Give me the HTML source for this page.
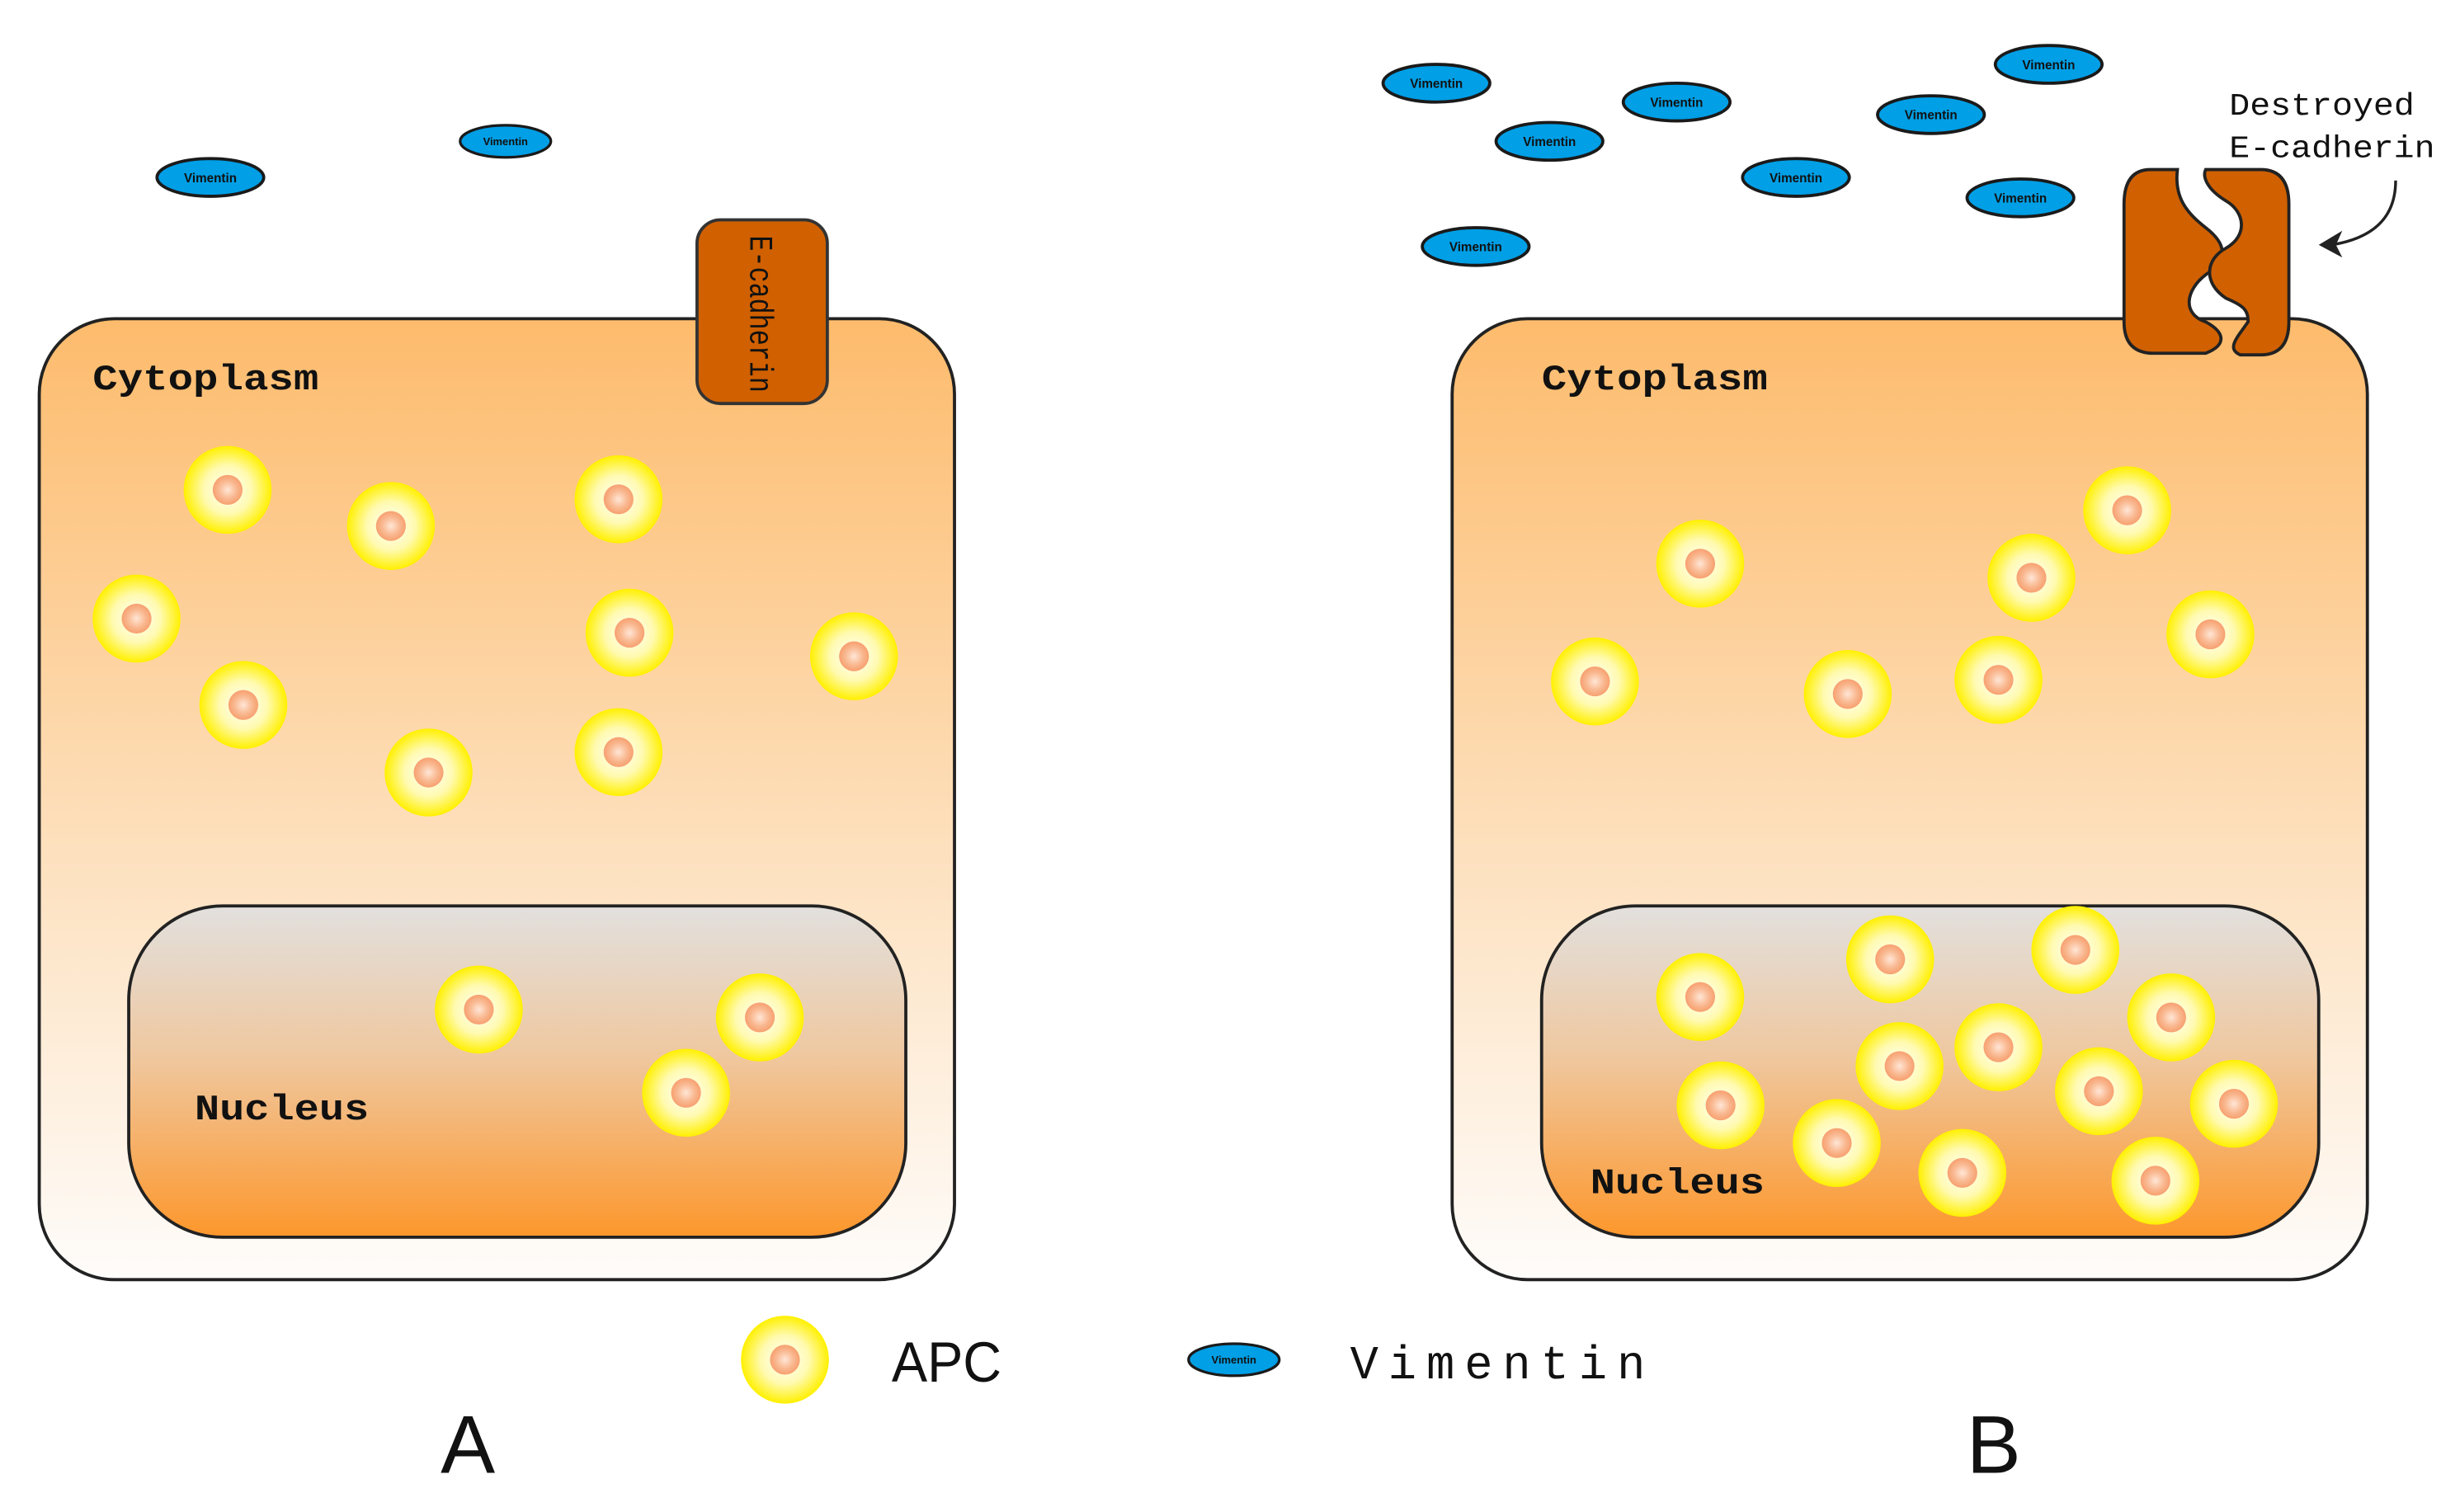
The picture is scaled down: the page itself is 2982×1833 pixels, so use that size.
<!DOCTYPE html>
<html><head><meta charset="utf-8"><style>html,body{margin:0;padding:0;background:#fff;}svg{display:block;}</style></head>
<body>
<svg width="2982" height="1833" viewBox="0 0 1567 963" preserveAspectRatio="none" xmlns="http://www.w3.org/2000/svg">
<defs>
<linearGradient id="cyto" x1="0" y1="0" x2="0" y2="1">
<stop offset="0" stop-color="#fdbb6c"/><stop offset="0.55" stop-color="#fde0bd"/><stop offset="1" stop-color="#fefcfa"/>
</linearGradient>
<linearGradient id="nuc" x1="0" y1="0" x2="0" y2="1">
<stop offset="0" stop-color="#e2e0de"/><stop offset="0.45" stop-color="#efc8a0"/><stop offset="1" stop-color="#fd972c"/>
</linearGradient>
<radialGradient id="apc"><stop offset="0" stop-color="#ffffff"/><stop offset="0.55" stop-color="#fffab0"/><stop offset="1" stop-color="#fff000"/></radialGradient>
<radialGradient id="dot"><stop offset="0" stop-color="#ffe6d6"/><stop offset="0.6" stop-color="#f9b890"/><stop offset="1" stop-color="#f7a070"/></radialGradient>
<g id="a"><circle r="28" fill="url(#apc)"/><circle r="9.5" fill="url(#dot)"/></g>
<g id="v"><ellipse rx="34" ry="12" fill="#009fe6" stroke="#1a1a1a" stroke-width="2"/><text y="3" text-anchor="middle" font-family="Liberation Sans, sans-serif" font-size="8" font-weight="bold" fill="#111">Vimentin</text></g>
</defs>

<!-- Cell A -->
<rect x="25" y="203" width="583" height="612" rx="48" fill="url(#cyto)" stroke="#222" stroke-width="2"/>
<rect x="82" y="577" width="495" height="211" rx="60" fill="url(#nuc)" stroke="#222" stroke-width="2"/>
<rect x="444" y="140" width="83" height="117" rx="15" fill="#d06000" stroke="#333" stroke-width="2"/>
<text transform="translate(478,150) rotate(90)" font-family="Liberation Mono, monospace" font-size="21" fill="#111" textLength="100" lengthAdjust="spacingAndGlyphs">E-cadherin</text>
<text x="59" y="248" font-family="Liberation Mono, monospace" font-size="23" font-weight="bold" fill="#111" textLength="144" lengthAdjust="spacingAndGlyphs">Cytoplasm</text>
<text x="124" y="713" font-family="Liberation Mono, monospace" font-size="23" font-weight="bold" fill="#111" textLength="111" lengthAdjust="spacingAndGlyphs">Nucleus</text>
<use href="#v" transform="translate(134,113)"/>
<use href="#v" transform="translate(322,90) scale(0.85)"/>
<use href="#a" x="145" y="312"/><use href="#a" x="249" y="335"/><use href="#a" x="394" y="318"/>
<use href="#a" x="87" y="394"/><use href="#a" x="401" y="403"/><use href="#a" x="544" y="418"/>
<use href="#a" x="155" y="449"/><use href="#a" x="273" y="492"/><use href="#a" x="394" y="479"/>
<use href="#a" x="305" y="643"/><use href="#a" x="484" y="648"/><use href="#a" x="437" y="696"/>

<!-- Cell B -->
<rect x="925" y="203" width="583" height="612" rx="48" fill="url(#cyto)" stroke="#222" stroke-width="2"/>
<rect x="982" y="577" width="495" height="211" rx="60" fill="url(#nuc)" stroke="#222" stroke-width="2"/>
<text x="982" y="248" font-family="Liberation Mono, monospace" font-size="23" font-weight="bold" fill="#111" textLength="144" lengthAdjust="spacingAndGlyphs">Cytoplasm</text>
<text x="1013" y="760" font-family="Liberation Mono, monospace" font-size="23" font-weight="bold" fill="#111" textLength="111" lengthAdjust="spacingAndGlyphs">Nucleus</text>
<path d="M1370,108 L1387,108 C1385,125 1392,135 1405,145 C1418,155 1420,165 1405,175 C1392,185 1390,200 1405,205 C1418,212 1418,220 1405,225 L1372,225 Q1353,225 1353,205 L1353,130 Q1353,108 1370,108 Z" fill="#d06000" stroke="#222" stroke-width="2"/>
<path d="M1405,108 L1440,108 Q1458,108 1458,130 L1458,205 Q1458,226 1440,226 L1427,226 C1418,222 1425,215 1432,205 C1432,198 1430,195 1418,190 C1403,180 1405,165 1418,158 C1432,150 1430,135 1418,128 C1405,120 1403,112 1405,108 Z" fill="#d06000" stroke="#222" stroke-width="2"/>
<text x="1420" y="73" font-family="Liberation Mono, monospace" font-size="20" fill="#111" textLength="118" lengthAdjust="spacingAndGlyphs">Destroyed</text>
<text x="1420" y="100" font-family="Liberation Mono, monospace" font-size="20" fill="#111" textLength="131" lengthAdjust="spacingAndGlyphs">E-cadherin</text>
<path d="M1526,115 C1526,140 1510,152 1485,156" fill="none" stroke="#222" stroke-width="1.8"/>
<path d="M1477,156 L1492,147 L1488,156 L1492,164 Z" fill="#222"/>
<use href="#v" transform="translate(915,53)"/><use href="#v" transform="translate(987,90)"/>
<use href="#v" transform="translate(1068,65)"/><use href="#v" transform="translate(1305,41)"/>
<use href="#v" transform="translate(1230,73)"/><use href="#v" transform="translate(1144,113)"/>
<use href="#v" transform="translate(1287,126)"/><use href="#v" transform="translate(940,157)"/>
<use href="#a" x="1083" y="359"/><use href="#a" x="1355" y="325"/><use href="#a" x="1294" y="368"/>
<use href="#a" x="1016" y="434"/><use href="#a" x="1177" y="442"/><use href="#a" x="1273" y="433"/><use href="#a" x="1408" y="404"/>
<use href="#a" x="1083" y="635"/><use href="#a" x="1204" y="611"/><use href="#a" x="1322" y="605"/>
<use href="#a" x="1383" y="648"/><use href="#a" x="1096" y="704"/><use href="#a" x="1210" y="679"/>
<use href="#a" x="1273" y="667"/><use href="#a" x="1337" y="695"/><use href="#a" x="1423" y="703"/>
<use href="#a" x="1170" y="728"/><use href="#a" x="1250" y="747"/><use href="#a" x="1373" y="752"/>

<!-- Legend -->
<use href="#a" x="500" y="866"/>
<text x="568" y="880" font-family="Liberation Sans, sans-serif" font-size="36" fill="#111" textLength="70" lengthAdjust="spacingAndGlyphs">APC</text>
<use href="#v" transform="translate(786,866) scale(0.85)"/>
<text x="860" y="878" font-family="Liberation Mono, monospace" font-size="30" fill="#111" textLength="188" lengthAdjust="spacing">Vimentin</text>
<text x="298" y="938" text-anchor="middle" font-family="Liberation Sans, sans-serif" font-size="52" fill="#111">A</text>
<text x="1270" y="938" text-anchor="middle" font-family="Liberation Sans, sans-serif" font-size="52" fill="#111">B</text>
</svg>
</body></html>
